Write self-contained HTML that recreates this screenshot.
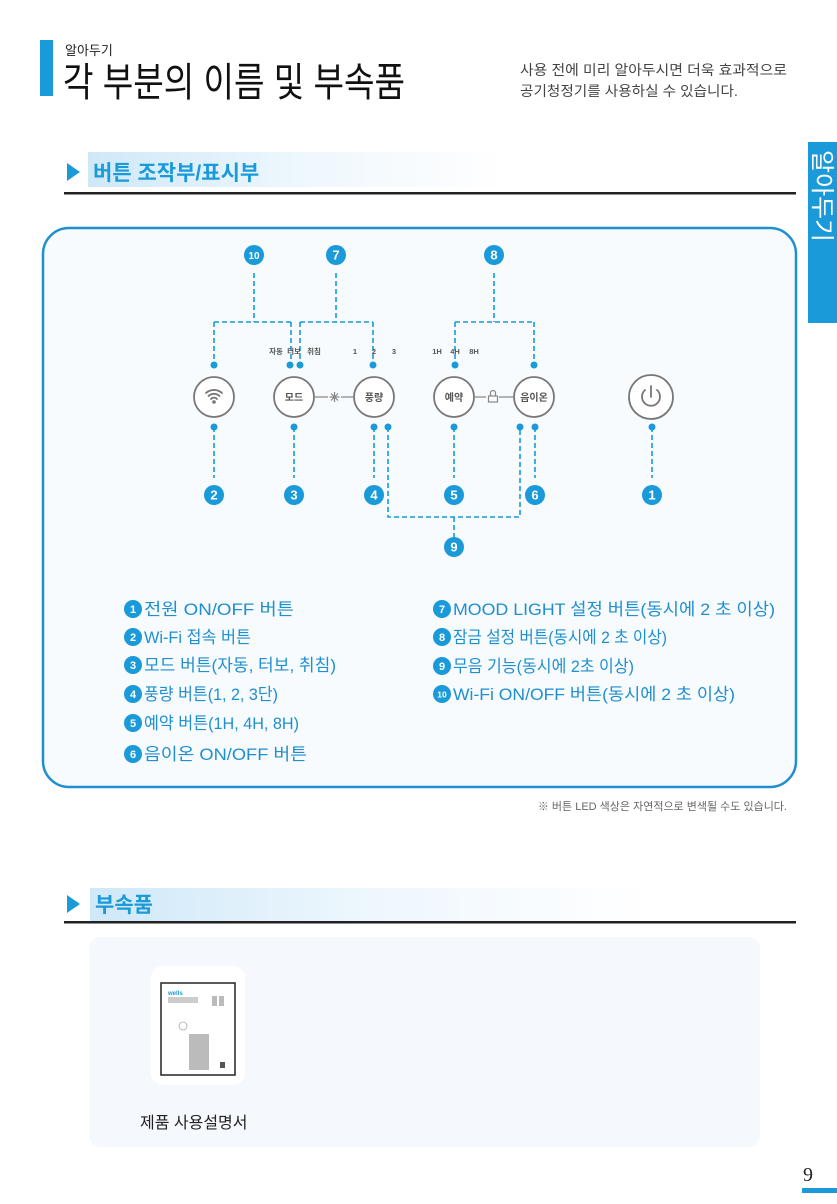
<!DOCTYPE html>
<html><head><meta charset="utf-8"><style>
html,body{margin:0;padding:0;background:#fff;}
body{width:837px;height:1204px;position:relative;overflow:hidden;font-family:"Liberation Sans","Noto Sans CJK KR",sans-serif;}
</style></head><body>
<svg width="837" height="1204" viewBox="0 0 837 1204" xmlns="http://www.w3.org/2000/svg" style="position:absolute;left:0;top:0" font-family="Liberation Sans, Noto Sans CJK KR, sans-serif">
<defs>
<linearGradient id="g" x1="0" x2="1" y1="0" y2="0"><stop offset="0" stop-color="#cfe8f8"/><stop offset="0.5" stop-color="#eef7fd"/><stop offset="1" stop-color="#ffffff"/></linearGradient>
</defs>
<!-- header -->
<rect x="40" y="40" width="13" height="56" fill="#1a9ad9"/>
<text x="65" y="55" font-size="13" fill="#222">알아두기</text>
<text x="63" y="96" font-size="40" fill="#111" textLength="342" lengthAdjust="spacingAndGlyphs">각 부분의 이름 및 부속품</text>
<text x="520" y="75" font-size="14" fill="#444" textLength="267" lengthAdjust="spacingAndGlyphs">사용 전에 미리 알아두시면 더욱 효과적으로</text>
<text x="520" y="96" font-size="14" fill="#444" textLength="218" lengthAdjust="spacingAndGlyphs">공기청정기를 사용하실 수 있습니다.</text>
<!-- right tab -->
<rect x="808" y="142" width="29" height="181" fill="#1a9ad9"/>
<text transform="translate(814,150) rotate(90)" font-size="24" fill="#fff" textLength="92" lengthAdjust="spacingAndGlyphs">알아두기</text>
<!-- section 1 -->
<rect x="88" y="152" width="420" height="35" fill="url(#g)"/>
<polygon points="67,163 80,172 67,181" fill="#1a9ad9"/>
<text x="93" y="180" font-size="21" font-weight="bold" fill="#1a9ad9">버튼 조작부/표시부</text>
<rect x="64" y="192" width="732" height="2.5" fill="#222"/>
<!-- box -->
<rect x="43" y="228" width="753" height="559" rx="26" fill="#f7fbfe" stroke="#1f8fcf" stroke-width="2.5"/>
<g stroke="#1a9ad9" stroke-width="1.6" stroke-dasharray="5,3" fill="none">
<path d="M254 273V322M214 322H291M214 322V365M291 322V365"/>
<path d="M336 273V322M300 322H373M300 322V365M373 322V365"/>
<path d="M494 273V322M455 322H534M455 322V365M534 322V365"/>
<path d="M214 427V478M294 427V478M374 427V478M454 427V478M535 427V478M652 427V478"/>
<path d="M388 427V517H520V427M454 517V538"/>
</g>
<g fill="#1a9ad9">
<circle cx="214" cy="365" r="3.5"/><circle cx="290" cy="365" r="3.5"/><circle cx="300" cy="365" r="3.5"/><circle cx="373" cy="365" r="3.5"/><circle cx="455" cy="365" r="3.5"/><circle cx="534" cy="365" r="3.5"/>
<circle cx="214" cy="427" r="3.5"/><circle cx="294" cy="427" r="3.5"/><circle cx="374" cy="427" r="3.5"/><circle cx="388" cy="427" r="3.5"/><circle cx="454" cy="427" r="3.5"/><circle cx="520" cy="427" r="3.5"/><circle cx="535" cy="427" r="3.5"/><circle cx="652" cy="427" r="3.5"/>
</g>
<!-- number badges -->
<g font-size="13" font-weight="bold" fill="#fff" text-anchor="middle">
<circle cx="254" cy="255" r="10" fill="#1a9ad9"/><text x="254" y="259" font-size="10">10</text>
<circle cx="336" cy="255" r="10" fill="#1a9ad9"/><text x="336" y="259.5">7</text>
<circle cx="494" cy="255" r="10" fill="#1a9ad9"/><text x="494" y="259.5">8</text>
<circle cx="214" cy="495" r="10" fill="#1a9ad9"/><text x="214" y="499.5">2</text>
<circle cx="294" cy="495" r="10" fill="#1a9ad9"/><text x="294" y="499.5">3</text>
<circle cx="374" cy="495" r="10" fill="#1a9ad9"/><text x="374" y="499.5">4</text>
<circle cx="454" cy="495" r="10" fill="#1a9ad9"/><text x="454" y="499.5">5</text>
<circle cx="535" cy="495" r="10" fill="#1a9ad9"/><text x="535" y="499.5">6</text>
<circle cx="652" cy="495" r="10" fill="#1a9ad9"/><text x="652" y="499.5">1</text>
<circle cx="454" cy="547" r="10" fill="#1a9ad9"/><text x="454" y="551.5">9</text>
</g>
<!-- small labels -->
<g font-size="7.5" fill="#555" text-anchor="middle" font-weight="bold">
<text x="276" y="354">자동</text><text x="294" y="354">터보</text><text x="314" y="354">취침</text>
<text x="355" y="354">1</text><text x="374" y="354">2</text><text x="394" y="354">3</text>
<text x="437" y="354">1H</text><text x="455" y="354">4H</text><text x="474" y="354">8H</text>
</g>
<!-- buttons -->
<g fill="#fff" stroke="#777" stroke-width="1.8">
<circle cx="214" cy="397" r="20"/><circle cx="294" cy="397" r="20"/><circle cx="374" cy="397" r="20"/><circle cx="454" cy="397" r="20"/><circle cx="534" cy="397" r="20"/><circle cx="651" cy="397" r="22"/>
</g>
<g stroke="#888" stroke-width="1.2" fill="none">
<path d="M314 397H328M341 397H354M474 397H486M499 397H514"/>
<path d="M334.5 392V402M329.5 397H339.5M331 393.5L338 400.5M338 393.5L331 400.5"/>
<rect x="488.5" y="396" width="9" height="6"/><path d="M490.5 396V393a2.5 2.5 0 0 1 5 0V396"/>
</g>
<g stroke="#777" stroke-width="1.8" fill="none" stroke-linecap="round">
<path d="M206 393a12 12 0 0 1 16 0M208.5 396a8 8 0 0 1 11 0M211 399a4 4 0 0 1 6 0"/>
<path d="M651 386V397M645 390a9 9 0 1 0 12 0"/>
</g>
<circle cx="214" cy="402" r="1.8" fill="#777"/>
<g font-size="10" fill="#555" text-anchor="middle" font-weight="bold">
<text x="294" y="401">모드</text><text x="374" y="401">풍량</text><text x="454" y="401">예약</text><text x="534" y="401">음이온</text>
</g>
<!-- legend -->
<g font-size="17" fill="#1f8fcf">
<g font-size="11" font-weight="bold" text-anchor="middle" fill="#fff">
<circle cx="133" cy="609" r="9" fill="#1a9ad9"/><text x="133" y="613">1</text>
<circle cx="133" cy="637" r="9" fill="#1a9ad9"/><text x="133" y="641">2</text>
<circle cx="133" cy="665" r="9" fill="#1a9ad9"/><text x="133" y="669">3</text>
<circle cx="133" cy="694" r="9" fill="#1a9ad9"/><text x="133" y="698">4</text>
<circle cx="133" cy="723" r="9" fill="#1a9ad9"/><text x="133" y="727">5</text>
<circle cx="133" cy="754" r="9" fill="#1a9ad9"/><text x="133" y="758">6</text>
<circle cx="442" cy="609" r="9" fill="#1a9ad9"/><text x="442" y="613">7</text>
<circle cx="442" cy="637" r="9" fill="#1a9ad9"/><text x="442" y="641">8</text>
<circle cx="442" cy="666" r="9" fill="#1a9ad9"/><text x="442" y="670">9</text>
<circle cx="442" cy="694" r="9" fill="#1a9ad9"/><text x="442" y="697.5" font-size="8.5">10</text>
</g>
<g lengthAdjust="spacingAndGlyphs">
<text x="144" y="615" textLength="150" lengthAdjust="spacingAndGlyphs">전원 ON/OFF 버튼</text>
<text x="144" y="643" textLength="107" lengthAdjust="spacingAndGlyphs">Wi-Fi 접속 버튼</text>
<text x="144" y="671" textLength="192" lengthAdjust="spacingAndGlyphs">모드 버튼(자동, 터보, 취침)</text>
<text x="144" y="700" textLength="134" lengthAdjust="spacingAndGlyphs">풍량 버튼(1, 2, 3단)</text>
<text x="144" y="729" textLength="155" lengthAdjust="spacingAndGlyphs">예약 버튼(1H, 4H, 8H)</text>
<text x="144" y="760" textLength="163" lengthAdjust="spacingAndGlyphs">음이온 ON/OFF 버튼</text>
<text x="453" y="615" textLength="322" lengthAdjust="spacingAndGlyphs">MOOD LIGHT 설정 버튼(동시에 2 초 이상)</text>
<text x="453" y="643" textLength="214" lengthAdjust="spacingAndGlyphs">잠금 설정 버튼(동시에 2 초 이상)</text>
<text x="453" y="672" textLength="181" lengthAdjust="spacingAndGlyphs">무음 기능(동시에 2초 이상)</text>
<text x="453" y="700" textLength="282" lengthAdjust="spacingAndGlyphs">Wi-Fi ON/OFF 버튼(동시에 2 초 이상)</text>
</g>
</g>
<text x="787" y="810" font-size="11" fill="#666" text-anchor="end">※ 버튼 LED 색상은 자연적으로 변색될 수도 있습니다.</text>
<!-- section 2 -->
<rect x="90" y="888" width="560" height="35" fill="url(#g)"/>
<polygon points="67,895 80,904 67,913" fill="#1a9ad9"/>
<text x="95" y="912" font-size="21" font-weight="bold" fill="#1a9ad9">부속품</text>
<rect x="64" y="921" width="732" height="2.5" fill="#222"/>
<rect x="89" y="937" width="671" height="210" rx="12" fill="#f5f9fd"/>
<rect x="151" y="966" width="94" height="119" rx="12" fill="#fff"/>
<rect x="161" y="983" width="74" height="92" fill="#fff" stroke="#222" stroke-width="1.5"/>
<text x="168" y="995" font-size="6" font-weight="bold" fill="#1a9ad9">wells</text>
<rect x="168" y="997" width="30" height="6" fill="#ccc"/>
<rect x="212" y="996" width="5" height="10" fill="#bbb"/><rect x="219" y="996" width="5" height="10" fill="#bbb"/>
<circle cx="183" cy="1026" r="4" fill="none" stroke="#aaa" stroke-width="0.8"/>
<rect x="189" y="1034" width="20" height="36" fill="#bbb"/>
<rect x="220" y="1062" width="5" height="6" fill="#555"/>
<text x="140" y="1128" font-size="16" fill="#222">제품 사용설명서</text>
<!-- page number -->
<text x="803" y="1181" font-size="20" fill="#222" font-family="Liberation Serif, serif">9</text>
<rect x="802" y="1188" width="35" height="5" fill="#1a9ad9"/>
</svg>
</body></html>
